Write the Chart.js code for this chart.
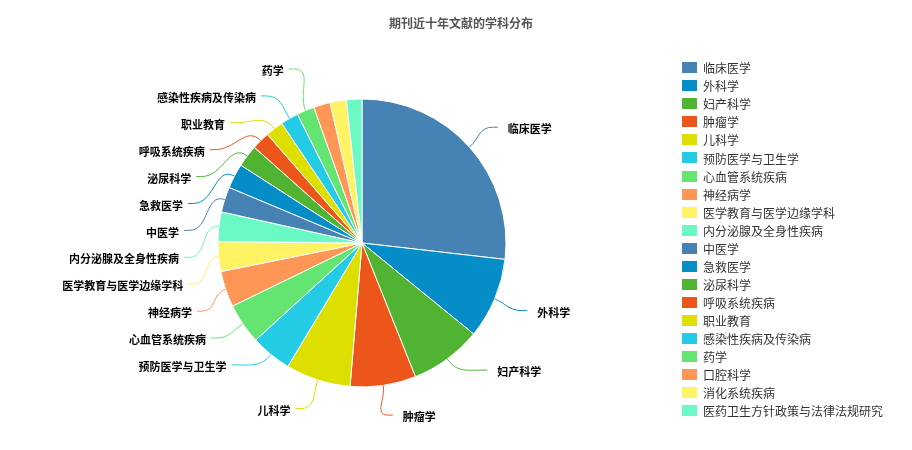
<!DOCTYPE html>
<html>
<head>
<meta charset="utf-8">
<script src="https://cdn.jsdelivr.net/npm/chart.js@4/dist/chart.umd.min.js"></script>
<style>
  html, body { margin: 0; padding: 0; background: #ffffff; }
  canvas { display: block; }
</style>
</head>
<body>
<canvas id="subjectPie" width="912" height="450"></canvas>
<script>
// Subject distribution of journal articles over the last ten years
const chartTitle = '期刊近十年文献的学科分布';

const subjects = [
  '临床医学', '外科学', '妇产科学', '肿瘤学', '儿科学',
  '预防医学与卫生学', '心血管系统疾病', '神经病学', '医学教育与医学边缘学科', '内分泌腺及全身性疾病',
  '中医学', '急救医学', '泌尿科学', '呼吸系统疾病', '职业教育',
  '感染性疾病及传染病', '药学', '口腔科学', '消化系统疾病', '医药卫生方针政策与法律法规研究'
];

const articleCounts = [
  964, 326, 290, 265, 262,
  166, 164, 145, 120, 119,
  102, 100, 89, 73, 72,
  72, 71, 67, 66, 62
];

const palette = [
  '#4682B4', '#058DC7', '#50B432', '#ED561B', '#DDDF00',
  '#24CBE5', '#64E572', '#FF9655', '#FFF263', '#6AF9C4'
];

const FONT = '"Noto Sans CJK SC", "Noto Sans", sans-serif';

// label line geometry
const LINE_LEN = 30;        // first segment, outward from the rim
const LINE_LEN2 = 5;        // short horizontal run into the text
const GAP_SPREAD = 45;      // spacing used when pushing labels upward
const GAP_PACK = 26.9;      // spacing used when packing labels downward
const MIN_LABEL_ANGLE = 6.9 * Math.PI / 180;

const pieLabels = {
  id: 'pieLabels',
  afterDatasetsDraw(chart) {
    const ctx = chart.ctx;
    const meta = chart.getDatasetMeta(0);
    const colors = chart.data.datasets[0].backgroundColor;
    const left = [], right = [];
    let cx = 0, cy = 0, r = 0;

    meta.data.forEach((arc, i) => {
      const p = arc.getProps(['x', 'y', 'startAngle', 'endAngle', 'outerRadius'], true);
      cx = p.x; cy = p.y; r = p.outerRadius;
      if (p.endAngle - p.startAngle < MIN_LABEL_ANGLE) return;
      const mid = (p.startAngle + p.endAngle) / 2;
      const c = Math.cos(mid), s = Math.sin(mid);
      const item = {
        i, c, s,
        x0: cx + c * r, y0: cy + s * r,
        nx: cx + c * (r + LINE_LEN),
        y: cy + s * (r + LINE_LEN)
      };
      (c < 0 ? left : right).push(item);
    });

    const R1 = r + LINE_LEN;
    const R2 = r + LINE_LEN + LINE_LEN2 - 0.5;

    const arrange = (list, dir) => {
      list.sort((a, b) => a.y - b.y);
      for (let k = list.length - 2; k >= 0; k--) {
        list[k].y = Math.min(list[k].y, list[k + 1].y - GAP_SPREAD);
      }
      if (list.length) list[0].y = Math.max(list[0].y, cy - R1);
      for (let k = 1; k < list.length; k++) {
        list[k].y = Math.max(list[k].y, list[k - 1].y + GAP_PACK);
      }
      list.forEach(it => {
        const dy = it.y - cy;
        let dX;
        if (Math.abs(dy) < R1 - 4) {
          dX = Math.sqrt(R2 * R2 - dy * dy);
        } else {
          dX = Math.abs(it.nx - cx) + LINE_LEN2;
        }
        it.x3 = cx + dir * dX;
        it.ex = it.x3 - dir * LINE_LEN2;
      });
    };
    arrange(left, -1);
    arrange(right, 1);

    ctx.save();
    ctx.lineWidth = 1;
    const drawSide = (list, dir) => {
      list.forEach(it => {
        const dist = Math.hypot(it.ex - it.x0, it.y - it.y0);
        const a = dist * 0.45;
        ctx.strokeStyle = colors[it.i];
        ctx.beginPath();
        ctx.moveTo(it.x0, it.y0);
        ctx.bezierCurveTo(it.x0 + it.c * a, it.y0 + it.s * a,
                          it.ex - dir * a, it.y,
                          it.ex, it.y);
        ctx.lineTo(it.x3, it.y);
        ctx.stroke();

        ctx.fillStyle = '#000000';
        ctx.font = 'bold 11px ' + FONT;
        ctx.textBaseline = 'middle';
        ctx.textAlign = dir < 0 ? 'right' : 'left';
        const tx = dir < 0 ? it.x3 - 5 : it.x3 + 10;
        ctx.fillText(chart.data.labels[it.i], tx, it.y + 2);
      });
    };
    drawSide(left, -1);
    drawSide(right, 1);
    ctx.restore();
  }
};

// title and the legend column on the right
const sideLegend = {
  id: 'sideLegend',
  afterDraw(chart) {
    const ctx = chart.ctx;
    const colors = chart.data.datasets[0].backgroundColor;
    ctx.save();
    ctx.fillStyle = '#555555';
    ctx.font = 'bold 12px ' + FONT;
    ctx.textAlign = 'center';
    ctx.textBaseline = 'middle';
    ctx.fillText(chartTitle, 461, 23);

    const top = 67.7, step = 18.05;
    ctx.font = '12px ' + FONT;
    ctx.textAlign = 'left';
    chart.data.labels.forEach((name, i) => {
      const y = top + i * step;
      ctx.fillStyle = colors[i];
      ctx.fillRect(682, Math.round(y - 5.5), 15, 11);
      ctx.fillStyle = '#333333';
      ctx.fillText(name, 703, y + 1);
    });
    ctx.restore();
  }
};

new Chart(document.getElementById('subjectPie'), {
  type: 'pie',
  data: {
    labels: subjects,
    datasets: [{
      data: articleCounts,
      backgroundColor: subjects.map((_, i) => palette[i % palette.length]),
      borderColor: '#ffffff',
      borderWidth: 1
    }]
  },
  options: {
    responsive: false,
    devicePixelRatio: 1,
    animation: false,
    layout: { padding: { left: 217.5, right: 405.5, top: 98.5, bottom: 62.5 } },
    plugins: {
      legend: { display: false },
      title: { display: false },
      tooltip: { enabled: false }
    }
  },
  plugins: [pieLabels, sideLegend]
});
</script>
</body>
</html>
